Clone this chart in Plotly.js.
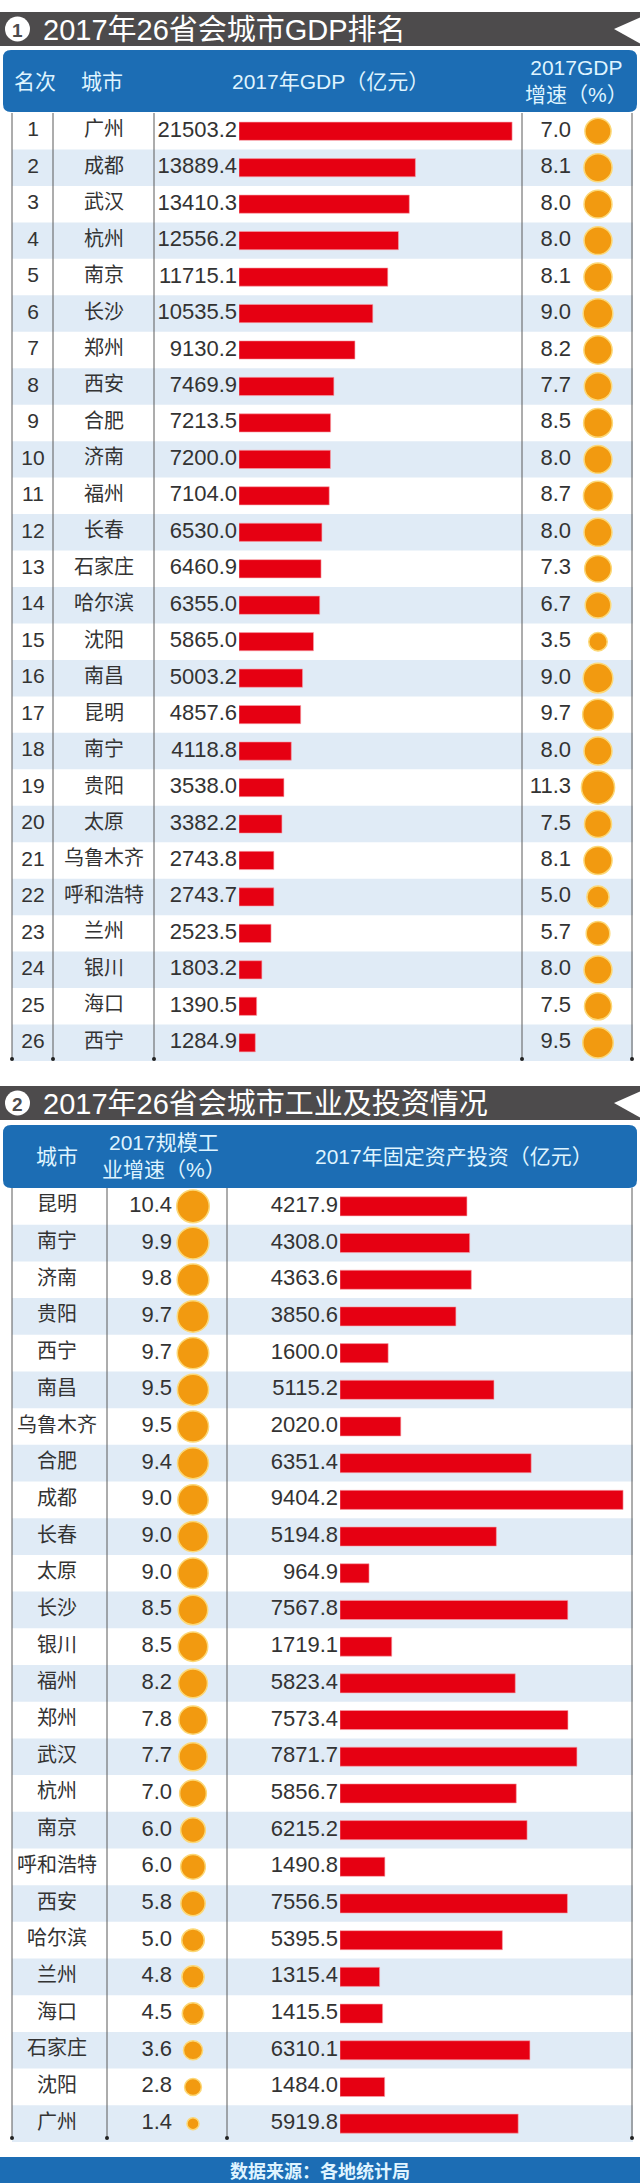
<!DOCTYPE html>
<html>
<head>
<meta charset="utf-8">
<script src="https://cdn.plot.ly/plotly-3.0.1.min.js"></script>
<style>
html,body{margin:0;padding:0;background:#fff;}
#chart{width:640px;height:2183px;}
</style>
</head>
<body>
<div id="chart"></div>
<script>
// ---------- DATA ----------
const title1 = "2017年26省会城市GDP排名";
const title2 = "2017年26省会城市工业及投资情况";
const source = "数据来源：各地统计局";

const ranks1 = [1,2,3,4,5,6,7,8,9,10,11,12,13,14,15,16,17,18,19,20,21,22,23,24,25,26];
const cities1 = ["广州","成都","武汉","杭州","南京","长沙","郑州","西安","合肥","济南","福州","长春","石家庄","哈尔滨","沈阳","南昌","昆明","南宁","贵阳","太原","乌鲁木齐","呼和浩特","兰州","银川","海口","西宁"];
const gdp2017 = [21503.2,13889.4,13410.3,12556.2,11715.1,10535.5,9130.2,7469.9,7213.5,7200.0,7104.0,6530.0,6460.9,6355.0,5865.0,5003.2,4857.6,4118.8,3538.0,3382.2,2743.8,2743.7,2523.5,1803.2,1390.5,1284.9];
const gdpGrowth = [7.0,8.1,8.0,8.0,8.1,9.0,8.2,7.7,8.5,8.0,8.7,8.0,7.3,6.7,3.5,9.0,9.7,8.0,11.3,7.5,8.1,5.0,5.7,8.0,7.5,9.5];

const cities2 = ["昆明","南宁","济南","贵阳","西宁","南昌","乌鲁木齐","合肥","成都","长春","太原","长沙","银川","福州","郑州","武汉","杭州","南京","呼和浩特","西安","哈尔滨","兰州","海口","石家庄","沈阳","广州"];
const indGrowth = [10.4,9.9,9.8,9.7,9.7,9.5,9.5,9.4,9.0,9.0,9.0,8.5,8.5,8.2,7.8,7.7,7.0,6.0,6.0,5.8,5.0,4.8,4.5,3.6,2.8,1.4];
const investment = [4217.9,4308.0,4363.6,3850.6,1600.0,5115.2,2020.0,6351.4,9404.2,5194.8,964.9,7567.8,1719.1,5823.4,7573.4,7871.7,5856.7,6215.2,1490.8,7556.5,5395.5,1315.4,1415.5,6310.1,1484.0,5919.8];

const head1 = ["名次","城市","2017年GDP（亿元）","2017GDP<br>增速（%）"];
const head2 = ["城市","2017规模工<br>业增速（%）","2017年固定资产投资（亿元）"];

// ---------- LAYOUT HELPERS ----------
const W = 640, H = 2183;
const px = x => x / W;
const py = y => 1 - y / H;
const rows2 = cities2.map((c, i) => i + 1);

const NUM = "Liberation Sans, Arial, sans-serif";
const CJK = "Noto Sans CJK SC, Liberation Sans, sans-serif";
const TXT = "#333333";
const RED = "#e60012";
const ORANGE = "#f29a10";
const BLUE = "#1c6db4";
const DARK = "#4d4b4c";
const BAND = "#e0ebf6";

const s1Top = 113, s1Bot = 1061;
const s2Top = 1188, s2Bot = 2142;

function textTrace(xaxis, yaxis, xPos, ys, texts, pos, font) {
  return {type:"scatter", mode:"text", xaxis:xaxis, yaxis:yaxis,
    x: ys.map(() => xPos), y: ys, text: texts, textposition: pos,
    textfont: font, hoverinfo:"skip", showlegend:false, cliponaxis:false};
}

const traces = [
  {type:"bar", orientation:"h", xaxis:"x", yaxis:"y", x:gdp2017, y:ranks1, width:0.5,
   marker:{color:RED, line:{color:"#f7a3ab", width:0.6}}, hoverinfo:"skip", showlegend:false},
  textTrace("x2","y",33,ranks1,ranks1.map(String),"middle center",{family:NUM,size:21,color:TXT}),
  textTrace("x2","y",104,ranks1,cities1,"middle center",{family:CJK,size:20,color:TXT}),
  textTrace("x2","y",237,ranks1,gdp2017.map(v=>v.toFixed(1)),"middle left",{family:NUM,size:22,color:TXT}),
  textTrace("x2","y",571,ranks1,gdpGrowth.map(v=>v.toFixed(1)),"middle left",{family:NUM,size:22,color:TXT}),
  {type:"scatter", mode:"markers", xaxis:"x2", yaxis:"y", x:ranks1.map(()=>598), y:ranks1,
   marker:{size:gdpGrowth, sizemode:"area", sizeref:0.0205, color:ORANGE, opacity:1, line:{color:"#fcd877", width:1.5}},
   hoverinfo:"skip", showlegend:false, cliponaxis:false},

  {type:"bar", orientation:"h", xaxis:"x3", yaxis:"y2", x:investment, y:rows2, width:0.52,
   marker:{color:RED, line:{color:"#f7a3ab", width:0.6}}, hoverinfo:"skip", showlegend:false},
  textTrace("x4","y2",57,rows2,cities2,"middle center",{family:CJK,size:20,color:TXT}),
  textTrace("x4","y2",172,rows2,indGrowth.map(v=>v.toFixed(1)),"middle left",{family:NUM,size:22,color:TXT}),
  textTrace("x4","y2",338,rows2,investment.map(v=>v.toFixed(1)),"middle left",{family:NUM,size:22,color:TXT}),
  {type:"scatter", mode:"markers", xaxis:"x4", yaxis:"y2", x:rows2.map(()=>193), y:rows2,
   marker:{size:indGrowth, sizemode:"area", sizeref:0.0196, color:ORANGE, opacity:1, line:{color:"#fcd877", width:1.5}},
   hoverinfo:"skip", showlegend:false, cliponaxis:false}
];

const hid = {visible:false, showgrid:false, zeroline:false, fixedrange:true};
const layout = {
  width: W, height: H,
  margin: {l:0, r:0, t:0, b:0, pad:0},
  paper_bgcolor:"#ffffff", plot_bgcolor:"rgba(0,0,0,0)",
  showlegend:false, barmode:"overlay",
  xaxis:  Object.assign({}, hid, {domain:[px(239),1], range:[0, (W-239)/0.0127], anchor:"y"}),
  xaxis2: Object.assign({}, hid, {domain:[0,1], range:[0,W], anchor:"y"}),
  yaxis:  Object.assign({}, hid, {domain:[py(s1Bot), py(s1Top)], range:[26.5,0.5], anchor:"x"}),
  xaxis3: Object.assign({}, hid, {domain:[px(340),1], range:[0, (W-340)/0.0301], anchor:"y2"}),
  xaxis4: Object.assign({}, hid, {domain:[0,1], range:[0,W], anchor:"y2"}),
  yaxis2: Object.assign({}, hid, {domain:[py(s2Bot), py(s2Top)], range:[26.5,0.5], anchor:"x3"}),
  shapes: [],
  annotations: []
};

const S = layout.shapes, A = layout.annotations;

ranks1.forEach(r => { if (r % 2 === 0) S.push({type:"rect", layer:"below", xref:"paper", yref:"y",
  x0:px(12), x1:px(633), y0:r-0.5, y1:r+0.5, fillcolor:BAND, line:{width:0}}); });
rows2.forEach(r => { if (r % 2 === 0) S.push({type:"rect", layer:"below", xref:"paper", yref:"y2",
  x0:px(12), x1:px(633), y0:r-0.5, y1:r+0.5, fillcolor:BAND, line:{width:0}}); });

function vlines(xs, y0, y1) {
  xs.forEach(x => {
    S.push({type:"line", layer:"below", xref:"paper", yref:"paper", x0:px(x), x1:px(x), y0:py(y0), y1:py(y1),
      line:{color:"#5a5a5a", width:1}});
    S.push({type:"circle", layer:"above", xref:"paper", yref:"paper", x0:px(x-2), x1:px(x+2), y0:py(y1+2), y1:py(y1-2),
      fillcolor:"#222", line:{width:0}});
  });
}
vlines([12,53,154,522,632], s1Top, s1Bot - 2);
vlines([12,107,227,632], s2Top, s2Bot - 4);

function titleBar(y0, y1, num, txt) {
  S.push({type:"rect", layer:"below", xref:"paper", yref:"paper", x0:0, x1:1, y0:py(y1), y1:py(y0),
    fillcolor:DARK, line:{width:0}});
  const ym = (y0 + y1) / 2;
  S.push({type:"path", layer:"below", xref:"paper", yref:"paper",
    path:`M ${px(614)} ${py(ym)} L ${px(641)} ${py(y0+5)} L ${px(641)} ${py(y1-2)} Z`,
    fillcolor:"#ffffff", line:{width:0}});
  S.push({type:"circle", layer:"above", xref:"paper", yref:"paper", x0:px(5), x1:px(30), y0:py(ym+12.5), y1:py(ym-12.5),
    fillcolor:"#ffffff", line:{width:0}});
  A.push({xref:"paper", yref:"paper", x:px(17.5), y:py(ym+1), text:"<b>"+num+"</b>", showarrow:false,
    xanchor:"center", yanchor:"middle", font:{family:NUM, size:19, color:DARK}});
  A.push({xref:"paper", yref:"paper", x:px(41), y:py(ym+1), text:txt, showarrow:false,
    xanchor:"left", yanchor:"middle", font:{family:"Liberation Sans, Noto Sans CJK SC, sans-serif", size:29, color:"#ffffff"}});
}
titleBar(12, 46, "1", title1);
titleBar(1086, 1120, "2", title2);

function rounded(x0, y0, x1, y1, r) {
  return `M ${px(x0+r)} ${py(y0)} L ${px(x1-r)} ${py(y0)} Q ${px(x1)} ${py(y0)} ${px(x1)} ${py(y0+r)} ` +
    `L ${px(x1)} ${py(y1-r)} Q ${px(x1)} ${py(y1)} ${px(x1-r)} ${py(y1)} L ${px(x0+r)} ${py(y1)} ` +
    `Q ${px(x0)} ${py(y1)} ${px(x0)} ${py(y1-r)} L ${px(x0)} ${py(y0+r)} Q ${px(x0)} ${py(y0)} ${px(x0+r)} ${py(y0)} Z`;
}
S.push({type:"path", layer:"below", xref:"paper", yref:"paper", path:rounded(3,50,637,112,8), fillcolor:BLUE, line:{width:0}});
S.push({type:"path", layer:"below", xref:"paper", yref:"paper", path:rounded(3,1125,637,1188,8), fillcolor:BLUE, line:{width:0}});

const HF = {family:"Liberation Sans, Noto Sans CJK SC, sans-serif", size:21, color:"#dff4ff"};
[[35,head1[0]],[102,head1[1]],[330,head1[2]],[576,head1[3]]].forEach(([x,t]) =>
  A.push({xref:"paper", yref:"paper", x:px(x), y:py(81), text:t, showarrow:false, xanchor:"center", yanchor:"middle", font:HF}));
[[57,head2[0]],[164,head2[1]],[454,head2[2]]].forEach(([x,t]) =>
  A.push({xref:"paper", yref:"paper", x:px(x), y:py(1156), text:t, showarrow:false, xanchor:"center", yanchor:"middle", font:HF}));

S.push({type:"rect", layer:"below", xref:"paper", yref:"paper", x0:0, x1:1, y0:0, y1:py(2157), fillcolor:BLUE, line:{width:0}});
A.push({xref:"paper", yref:"paper", x:0.5, y:py(2170), text:"<b>"+source+"</b>", showarrow:false,
  xanchor:"center", yanchor:"middle", font:{family:CJK, size:18, color:"#dff4ff"}});

Plotly.newPlot("chart", traces, layout, {staticPlot:true, displayModeBar:false});
</script>
</body>
</html>
